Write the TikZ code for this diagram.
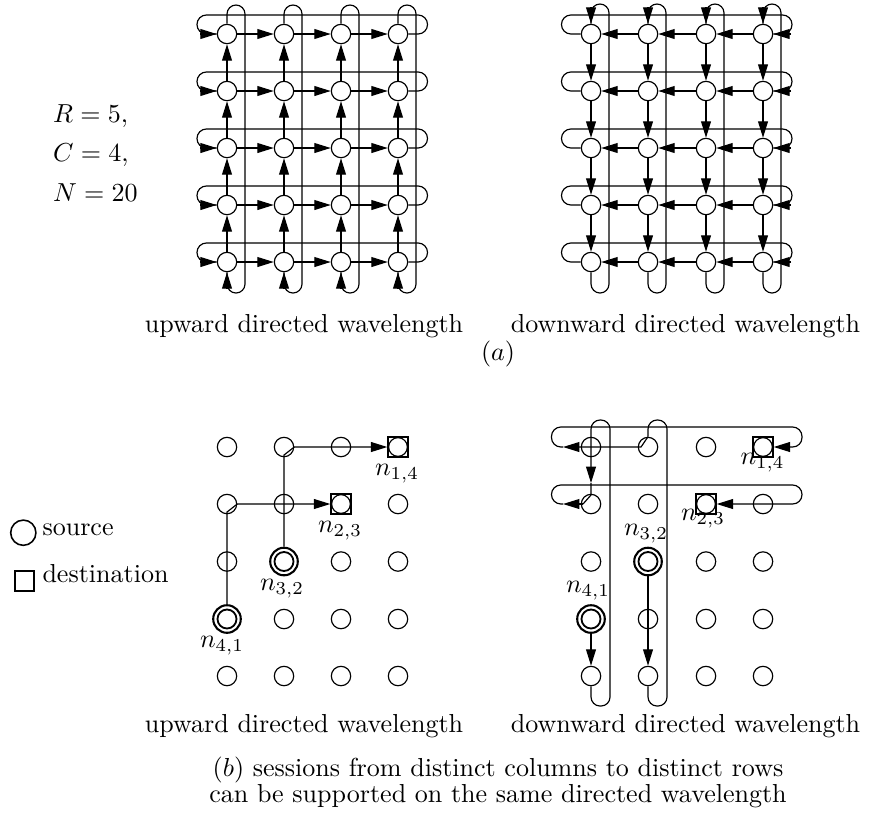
\documentclass[tikz,border=0pt]{standalone}
\usetikzlibrary{arrows.meta,calc}
\begin{document}
\begin{tikzpicture}[x=0.3842pt,y=-0.3842pt,
  ln/.style={line width=0.45pt},
  nd/.style={circle,draw,line width=0.45pt,minimum size=7.45pt,inner sep=0pt},
  arr/.style={ln,-{Triangle[length=6.3pt,width=3.8pt]}},
  rc/.style={ln,rounded corners=3.6pt},
  cl/.style={ln,rounded corners=3.46pt},
  src/.style={circle,draw,line width=0.8pt,minimum size=10.6pt,inner sep=0pt,
    path picture={\draw[line width=0.7pt] (path picture bounding box.center) circle[radius=3.65pt];}},
  dst/.style={rectangle,draw,line width=0.75pt,minimum size=7.45pt,inner sep=0pt,
    path picture={\draw[line width=0.45pt] (path picture bounding box.center) circle[radius=3.6pt];}},
  lbl/.style={inner sep=0pt}
]
\useasboundingbox (0,0) rectangle (869,820);

% ---------- (a) upward ----------
\foreach \c/\x in {1/227,2/284,3/341,4/398}{
  \foreach \r/\y in {1/34,2/91,3/148,4/205,5/262}{
    \node[nd] (ua-\r-\c) at (\x,\y) {};
  }
}
\foreach \c in {1,...,4}{
  \foreach \r [count=\p] in {2,...,5}{
    \draw[arr] (ua-\r-\c) -- (ua-\p-\c);
  }
  \draw[cl] (ua-1-\c.north) -- ($(ua-1-\c)+(0,-29)$) -- ($(ua-1-\c)+(18,-29)$)
    -- ($(ua-5-\c)+(18,31)$) -- ($(ua-5-\c)+(0,31)$) -- (ua-5-\c.south);
  \draw[arr] ($(ua-5-\c)+(0,27)$) -- (ua-5-\c);
}
\foreach \r in {1,...,5}{
  \foreach \c [count=\p] in {2,...,4}{
    \draw[arr] (ua-\r-\p) -- (ua-\r-\c);
  }
  \draw[rc] (ua-\r-4.east) -- ($(ua-\r-4)+(29.5,0)$) -- ($(ua-\r-4)+(29.5,-19)$)
    -- ($(ua-\r-1)+(-30,-19)$) -- ($(ua-\r-1)+(-30,0)$) -- (ua-\r-1.west);
  \draw[arr] ($(ua-\r-1)+(-27,0)$) -- (ua-\r-1);
}

% ---------- (a) downward ----------
\foreach \c/\x in {1/591,2/648,3/706,4/763}{
  \foreach \r/\y in {1/34,2/91,3/148,4/205,5/262}{
    \node[nd] (da-\r-\c) at (\x,\y) {};
  }
}
\foreach \c in {1,...,4}{
  \foreach \r [count=\p] in {2,...,5}{
    \draw[arr] (da-\p-\c) -- (da-\r-\c);
  }
  \draw[cl] (da-5-\c.south) -- ($(da-5-\c)+(0,31)$) -- ($(da-5-\c)+(18,31)$)
    -- ($(da-1-\c)+(18,-30)$) -- ($(da-1-\c)+(0,-30)$) -- (da-1-\c.north);
  \draw[arr] ($(da-1-\c)+(0,-27)$) -- (da-1-\c);
}
\foreach \r in {1,...,5}{
  \foreach \c [count=\p] in {2,...,4}{
    \draw[arr] (da-\r-\c) -- (da-\r-\p);
  }
  \draw[rc] (da-\r-1.west) -- ($(da-\r-1)+(-29.5,0)$) -- ($(da-\r-1)+(-29.5,-19)$)
    -- ($(da-\r-4)+(29,-19)$) -- ($(da-\r-4)+(29,0)$) -- (da-\r-4.east);
  \draw[arr] ($(da-\r-4)+(28,0)$) -- (da-\r-4);
}

% ---------- texts (a) ----------
\node[lbl,anchor=base west] (tr) at (52.7,122) {$R=5,$};
\node[lbl,anchor=base west] (tc) at (52.7,161.5) {$C=4,$};
\node[lbl,anchor=base west] (tn) at (52.7,201) {$N=20$};
\node[lbl,anchor=base] (cu1) at (304,332) {upward directed wavelength};
\node[lbl,anchor=base] (cd1) at (685.5,332) {downward directed wavelength};
\node[lbl,anchor=base] (ca) at (498,360) {$(a)$};

% ---------- (b) upward ----------
\foreach \c/\x in {1/227,2/284,3/341,4/398}{
  \foreach \r/\y in {1/447,2/504,3/561.5,4/619,5/676}{
    \def\sty{nd}
    \ifnum\r\c=14 \def\sty{dst}\fi
    \ifnum\r\c=23 \def\sty{dst}\fi
    \ifnum\r\c=32 \def\sty{src}\fi
    \ifnum\r\c=41 \def\sty{src}\fi
    \node[\sty] (ub-\r-\c) at (\x,\y) {};
  }
}
\draw[arr] (ub-3-2.north) -- ($(ub-1-2)+(0,8)$) -- (ub-1-2.east) -- (ub-1-4.west);
\draw[arr] (ub-4-1.north) -- ($(ub-2-1)+(0,8)$) -- (ub-2-1.east) -- (ub-2-3.west);
\node[lbl] (lu14) at (397,474) {$n_{1,4}$};
\node[lbl] (lu23) at (340,531) {$n_{2,3}$};
\node[lbl] (lu32) at (282,589) {$n_{3,2}$};
\node[lbl] (lu41) at (222,646) {$n_{4,1}$};

% ---------- (b) downward ----------
\foreach \c/\x in {1/591,2/648,3/706,4/763}{
  \foreach \r/\y in {1/447,2/504,3/561.5,4/619,5/676}{
    \def\sty{nd}
    \ifnum\r\c=14 \def\sty{dst}\fi
    \ifnum\r\c=23 \def\sty{dst}\fi
    \ifnum\r\c=32 \def\sty{src}\fi
    \ifnum\r\c=41 \def\sty{src}\fi
    \node[\sty] (db-\r-\c) at (\x,\y) {};
  }
}
% session n41 -> n23
\draw[arr] (db-4-1) -- (db-5-1);
\draw[cl,arr] (db-5-1.south) -- ($(db-5-1)+(0,30)$) -- ($(db-5-1)+(19,30)$)
  -- ($(db-1-1)+(19,-27)$) -- ($(db-1-1)+(0,-27)$) -- ($(db-2-1)+(0,-21)$);
\draw[ln] ($(db-2-1)+(0,-21)$) -- ($(db-2-1)+(0,-9)$) -- ($(db-2-1)+(-8,0)$);
\draw[arr] ($(db-2-1)+(-8,0)$) -- ($(db-2-1)+(-28,0)$);
\draw[rc,arr] ($(db-2-1)+(-28,0)$) -- ($(db-2-1)+(-39.5,0)$) -- ($(db-2-1)+(-39.5,-19)$)
  -- ($(db-2-4)+(39,-19)$) -- ($(db-2-4)+(39,0)$) -- (db-2-3.east);
% session n32 -> n14
\draw[arr] (db-3-2) -- (db-5-2);
\draw[cl] (db-5-2.south) -- ($(db-5-2)+(0,30)$) -- ($(db-5-2)+(19,30)$)
  -- ($(db-1-2)+(19,-27)$) -- ($(db-1-2)+(0,-27)$) -- (db-1-2.north);
\draw[arr] (db-1-2.north) -- ($(db-1-2)+(-7,0)$) -- ($(db-1-1)+(-28,0)$);
\draw[rc,arr] ($(db-1-1)+(-28,0)$) -- ($(db-1-1)+(-39.5,0)$) -- ($(db-1-1)+(-39.5,-20)$)
  -- ($(db-1-4)+(39,-20)$) -- ($(db-1-4)+(39,0)$) -- (db-1-4.east);
\node[lbl] (ld14) at (762.5,463) {$n_{1,4}$};
\node[lbl] (ld23) at (703,519) {$n_{2,3}$};
\node[lbl] (ld32) at (646,534) {$n_{3,2}$};
\node[lbl] (ld41) at (588,591) {$n_{4,1}$};

% ---------- legend ----------
\node[circle,draw,line width=0.6pt,minimum size=9.7pt,inner sep=0pt] (lsrc) at (23.3,532.7) {};
\node[lbl,anchor=base west] (tsrc) at (42,535) {source};
\node[rectangle,draw,line width=0.7pt,minimum size=7.4pt,inner sep=0pt] (ldst) at (24.7,581) {};
\node[lbl,anchor=base west] (tdst) at (42,582.7) {destination};

% ---------- texts (b) ----------
\node[lbl,anchor=base] (cu2) at (304,732) {upward directed wavelength};
\node[lbl,anchor=base] (cd2) at (685.5,732) {downward directed wavelength};
\node[lbl,anchor=base] (cb1) at (498,776) {$(b)$ sessions from distinct columns to distinct rows};
\node[lbl,anchor=base] (cb2) at (498,802) {can be supported on the same directed wavelength};
\end{tikzpicture}
\end{document}
